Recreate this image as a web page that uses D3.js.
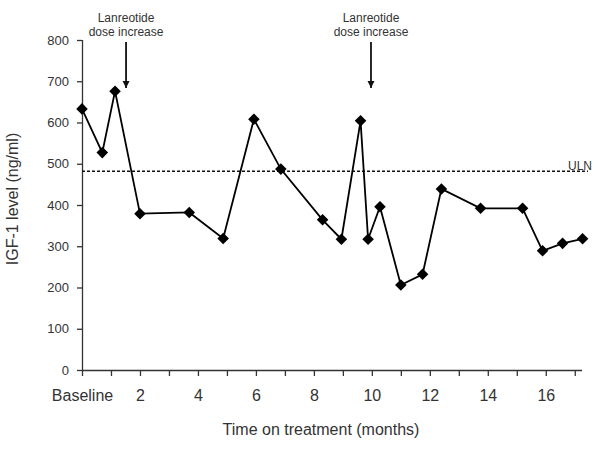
<!DOCTYPE html>
<html>
<head>
<meta charset="utf-8">
<script src="https://cdn.jsdelivr.net/npm/d3@7"></script>
<style>
  body { margin: 0; background: #fff; }
  text { font-family: "Liberation Sans", Arial, sans-serif; fill: #333; }
</style>
</head>
<body>
<div id="plot"></div>
<script>
// months on treatment (0 = baseline) and IGF-1 level (ng/ml)
var months = [0, 0.7, 1.14, 2.0, 3.7, 4.87, 5.93, 6.86, 8.3, 8.95, 9.61, 9.87, 10.28, 11.0, 11.75, 12.4, 13.75, 15.2, 15.89, 16.58, 17.27];
var igf1 = [633, 527, 676, 379, 382, 319, 608, 487, 364, 317, 604, 317, 396, 206, 232, 439, 392, 392, 289, 307, 318];
var uln = 482;
var doseIncreases = [1.52, 9.97];
var yTicks = [0, 100, 200, 300, 400, 500, 600, 700, 800];
var xTickLabels = ["Baseline", "2", "4", "6", "8", "10", "12", "14", "16"];

var margin = {top: 40, right: 18, bottom: 84, left: 82};
var height = 454 - margin.top - margin.bottom;

var svg = d3.select("#plot").append("svg")
    .attr("width", 600)
    .attr("height", 454)
  .append("g")
    .attr("transform", "translate(" + margin.left + "," + margin.top + ")");

var xScale = d3.scaleLinear().domain([0, 17.25]).range([0, 500]);
var yScale = d3.scaleLinear().domain([0, 800]).range([height, 0]);

//Axes
var xAxis = d3.axisBottom(xScale)
    .tickValues(d3.range(0, 18))
    .tickSize(6)
    .tickFormat(function(d) { return d % 2 === 0 ? xTickLabels[d / 2] : ""; });
var yAxis = d3.axisLeft(yScale).tickValues(yTicks).tickSize(5);

var gx = svg.append("g")
    .attr("transform", "translate(0," + height + ")")
    .call(xAxis);
gx.select(".domain").attr("d", "M0,0.5H" + xScale(17.25));
gx.selectAll("text").attr("y", 20).attr("dy", "0.71em").style("font-size", "16px");

var gy = svg.append("g").call(yAxis);
gy.select(".domain").attr("d", "M0.5," + yScale(800) + "V" + height);
gy.selectAll("text").attr("x", -13).style("font-size", "13px");

svg.selectAll(".domain, .tick line").attr("stroke", "#333").attr("stroke-width", 1.3);

//Axis titles
svg.append("text")
    .attr("transform", "rotate(-90)")
    .attr("x", -159)
    .attr("y", -64)
    .style("text-anchor", "middle")
    .style("font-size", "16px")
    .text("IGF-1 level (ng/ml)");

svg.append("text")
    .attr("x", 239)
    .attr("y", height + 65)
    .style("text-anchor", "middle")
    .style("font-size", "16px")
    .text("Time on treatment (months)");

//ULN line
svg.append("line")
    .attr("x1", 0)
    .attr("x2", 506)
    .attr("y1", yScale(uln))
    .attr("y2", yScale(uln))
    .attr("stroke", "#111")
    .attr("stroke-width", 1.6)
    .attr("stroke-dasharray", "3,2");
svg.append("text")
    .attr("x", 486)
    .attr("y", yScale(uln) - 1)
    .style("font-size", "12px")
    .text("ULN");

//Dose increase arrows
svg.append("defs").append("marker")
    .attr("id", "arrow")
    .attr("viewBox", "0 0 10 10")
    .attr("refX", 10).attr("refY", 5)
    .attr("markerWidth", 4).attr("markerHeight", 4)
    .attr("orient", "auto")
  .append("path")
    .attr("d", "M0,0L10,5L0,10Z")
    .attr("fill", "#111");

var notes = svg.selectAll(".note").data(doseIncreases).enter().append("g")
    .attr("transform", function(d) { return "translate(" + xScale(d) + ",0)"; });
notes.append("line")
    .attr("y1", 2).attr("y2", 48)
    .attr("stroke", "#111").attr("stroke-width", 1.8)
    .attr("marker-end", "url(#arrow)");
notes.append("text").attr("y", -18).style("text-anchor", "middle").style("font-size", "12px").text("Lanreotide");
notes.append("text").attr("y", -4).style("text-anchor", "middle").style("font-size", "12px").text("dose increase");

//Series
var pts = months.map(function(m, i) { return {m: m, v: igf1[i]}; });
var line = d3.line()
    .x(function(d) { return xScale(d.m); })
    .y(function(d) { return yScale(d.v); });
svg.append("path")
    .datum(pts)
    .attr("d", line)
    .attr("fill", "none")
    .attr("stroke", "#000")
    .attr("stroke-width", 1.8);

svg.selectAll(".pt").data(pts).enter().append("path")
    .attr("class", "pt")
    .attr("d", d3.symbol().type(d3.symbolDiamond2).size(85))
    .attr("transform", function(d) { return "translate(" + xScale(d.m) + "," + yScale(d.v) + ")"; })
    .attr("fill", "#000");
</script>
</body>
</html>
